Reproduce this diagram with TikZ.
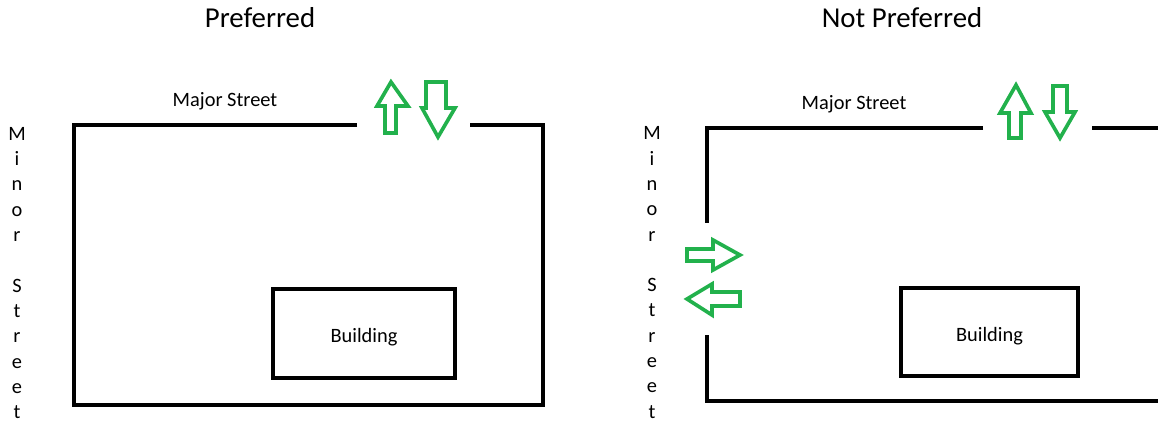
\documentclass[tikz,border=0pt]{standalone}
\usepackage{fontspec}
\setmainfont{Carlito}
\definecolor{arrowgreen}{RGB}{34,177,76}
\begin{document}
\begin{tikzpicture}[x=0.025cm,y=-0.025cm,
    lot/.style={line width=2.4pt,line join=miter},
    flow/.style={draw=arrowgreen,line width=2.6pt,line join=miter},
    building/.style={draw,line width=2.4pt,inner sep=0pt,text depth=0pt,
      text height=13pt,font=\fontsize{14.5}{17}\selectfont},
    title/.style={font=\fontsize{20.5}{24}\selectfont},
    street/.style={font=\fontsize{14.5}{17}\selectfont,inner sep=0pt},
    minor/.style={font=\fontsize{14.5}{18}\selectfont,align=center,inner sep=0pt}]
  \useasboundingbox (0,0) rectangle (1158,424);
  % preferred
  \node[title] (pref) at (260,18) {Preferred};
  \node[street] (major1) at (225,101) {Major Street};
  \node[minor] (minor1) at (17,273) {M\\i\\n\\o\\r\\[18pt]S\\t\\r\\e\\e\\t};
  \draw[lot] (357,125) -- (74,125) -- (74,405) -- (543,405) -- (543,125) -- (470,125);
  \node[building,minimum width=4.55cm,minimum height=2.225cm] (bldg1) at (364,333.5) {Building};
  \draw[flow] (391,82) -- (408,106) -- (396,106) -- (396,133)
    -- (385,133) -- (385,106) -- (377,106) -- cycle;
  \draw[flow] (426,82) -- (446,82) -- (446,108) -- (455,108)
    -- (438,137) -- (422,108) -- (426,108) -- cycle;
  % not preferred
  \node[title] (notpref) at (902,18) {Not Preferred};
  \node[street] (major2) at (854,104) {Major Street};
  \node[minor] (minor2) at (652,272.5) {M\\i\\n\\o\\r\\[18pt]S\\t\\r\\e\\e\\t};
  \draw[lot] (983,128) -- (707,128) -- (707,223);
  \draw[lot] (707,335) -- (707,401) -- (1158,401);
  \draw[lot] (1092,128) -- (1158,128);
  \node[building,minimum width=4.425cm,minimum height=2.2cm] (bldg2) at (989.5,332) {Building};
  \draw[flow] (1016,85) -- (1031,113) -- (1021,113) -- (1021,138)
    -- (1009,138) -- (1009,113) -- (1000,113) -- cycle;
  \draw[flow] (1053,86) -- (1067,86) -- (1067,112) -- (1075,112)
    -- (1060,138) -- (1045,112) -- (1053,112) -- cycle;
  \draw[flow] (687,249) -- (713,249) -- (713,240) -- (740,255)
    -- (713,270) -- (713,261) -- (687,261) -- cycle;
  \draw[flow] (687,299) -- (712,284) -- (712,292) -- (740,292)
    -- (740,306) -- (712,306) -- (712,315) -- cycle;
\end{tikzpicture}
\end{document}
